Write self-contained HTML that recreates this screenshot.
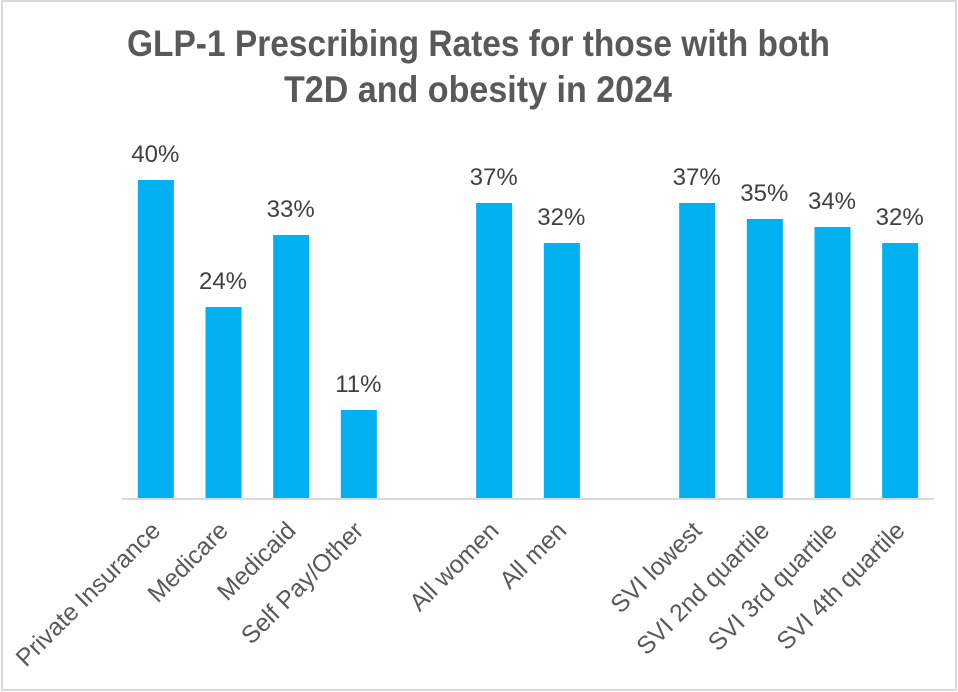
<!DOCTYPE html>
<html lang="en">
<head>
<meta charset="utf-8">
<title>GLP-1 Prescribing Rates</title>
<style>
html,body{margin:0;padding:0;background:#fff;}
svg{display:block;font-family:"Liberation Sans",sans-serif;}
</style>
</head>
<body>
<svg id="chart" width="958" height="692" viewBox="0 0 958 692" xmlns="http://www.w3.org/2000/svg">
<rect x="2" y="1" width="954" height="689" fill="#fff" stroke="#d9d9d9" stroke-width="2"/>
<text x="478.5" y="56" text-anchor="middle" font-size="37" font-weight="700" fill="#595959" textLength="703" lengthAdjust="spacingAndGlyphs">GLP-1 Prescribing Rates for those with both</text>
<text x="478" y="102" text-anchor="middle" font-size="37" font-weight="700" fill="#595959" textLength="388" lengthAdjust="spacingAndGlyphs">T2D and obesity in 2024</text>
<g id="bars"></g>
<g id="value-labels"></g>
<line x1="122" x2="934" y1="499" y2="499" stroke="#d9d9d9" stroke-width="2"/>
<g id="category-labels"></g>
</svg>
<script>
const categories = ["Private Insurance","Medicare","Medicaid","Self Pay/Other","","All women","All men","","SVI lowest","SVI 2nd quartile","SVI 3rd quartile","SVI 4th quartile"];
const values = [40,24,33,11,null,37,32,null,37,35,34,32];

const NS = "http://www.w3.org/2000/svg";
const plotLeft = 122, plotRight = 934, baseY = 498, pxPerUnit = 7.96, barWidth = 36;
const xScale = i => plotLeft + (plotRight - plotLeft) * (i + 0.5) / categories.length;
const yScale = v => Math.round(baseY - 0.1 - v * pxPerUnit);
const barsGroup = document.getElementById("bars");
const valuesGroup = document.getElementById("value-labels");
const catsGroup = document.getElementById("category-labels");

categories.forEach((name, i) => {
  const v = values[i];
  if (v === null || name === "") return;
  const cx = xScale(i);

  const bar = document.createElementNS(NS, "rect");
  
  
  bar.setAttribute("x", cx - barWidth / 2);
  bar.setAttribute("y", yScale(v));
  bar.setAttribute("width", barWidth);
  bar.setAttribute("height", baseY - yScale(v));
  bar.setAttribute("fill", "#00b0f0");
  barsGroup.appendChild(bar);

  const label = document.createElementNS(NS, "text");
  
  
  label.setAttribute("x", cx - 0.5);
  label.setAttribute("y", yScale(v) - 18);
  label.setAttribute("text-anchor", "middle");
  label.setAttribute("font-size", "24");
  label.setAttribute("fill", "#404040");
  label.textContent = v + "%";
  valuesGroup.appendChild(label);

  const cat = document.createElementNS(NS, "text");
  
  
  const ax = cx + 6, ay = 532;
  cat.setAttribute("x", ax);
  cat.setAttribute("y", ay);
  cat.setAttribute("text-anchor", "end");
  cat.setAttribute("font-size", "24.7");
  cat.setAttribute("fill", "#595959");
  cat.setAttribute("transform", "rotate(-45 " + ax + " " + ay + ")");
  cat.textContent = name;
  catsGroup.appendChild(cat);
});
</script>
</body>
</html>
